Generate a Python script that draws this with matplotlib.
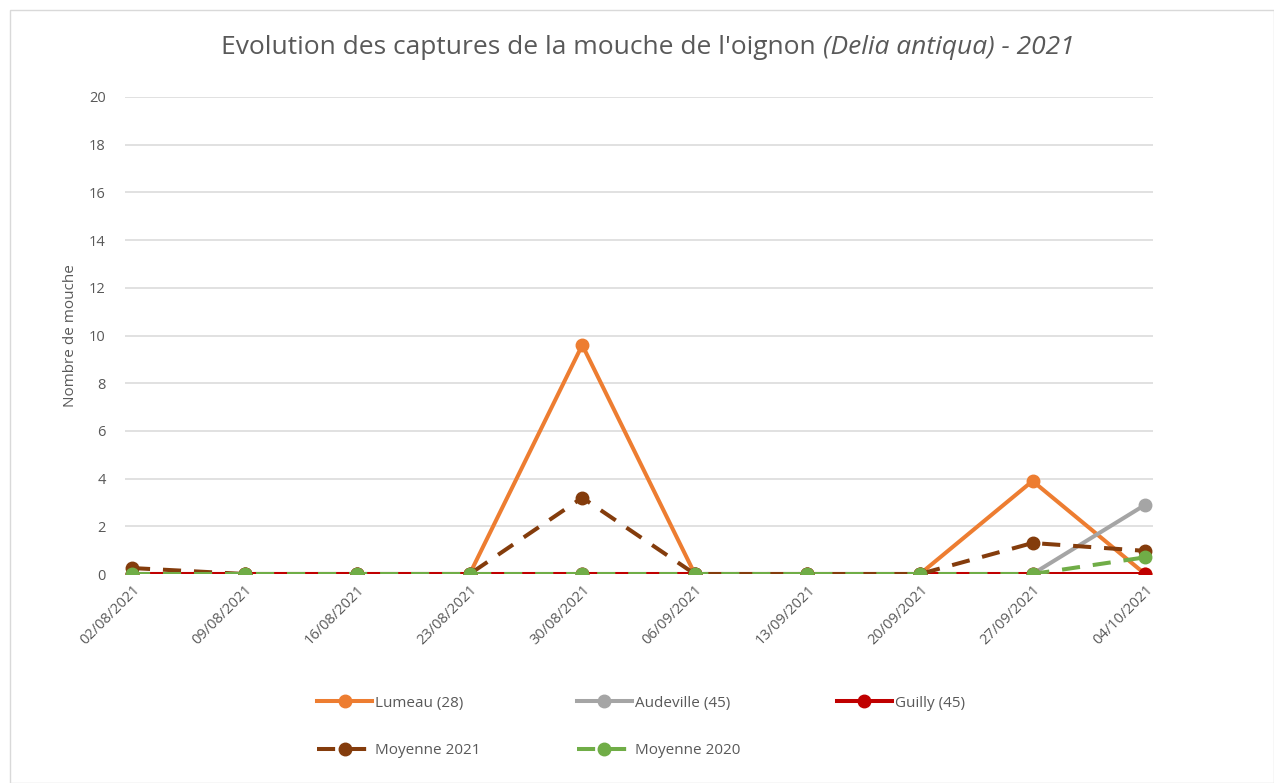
import matplotlib.pyplot as plt
from matplotlib.patches import Rectangle

plt.rcParams['font.family'] = ['Open Sans', 'DejaVu Sans']

dates = ["02/08/2021", "09/08/2021", "16/08/2021", "23/08/2021", "30/08/2021",
         "06/09/2021", "13/09/2021", "20/09/2021", "27/09/2021", "04/10/2021"]
lumeau = [0, 0, 0, 0, 9.6, 0, 0, 0, 3.9, 0]
audeville = [0, 0, 0, 0, 0, 0, 0, 0, 0, 2.9]
guilly = [0, 0, 0, 0, 0, 0, 0, 0, 0, 0]
moy2021 = [0.25, 0, 0, 0, 3.2, 0, 0, 0, 1.3, 0.97]
moy2020 = [0, 0, 0, 0, 0, 0, 0, 0, 0, 0.7]

txt = "#595959"
W, H = 1274, 783
fig = plt.figure(figsize=(W / 100, H / 100), dpi=100)
ax = fig.add_axes([125 / W, 1 - 574 / H, (1153 - 125) / W, (574 - 97) / H])

x = list(range(len(dates)))
lw, ms = 2.9, 9
dash = (0, (4.5, 3.2))
ax.plot(x, lumeau, color="#ED7D31", lw=lw, marker="o", ms=ms, label="Lumeau (28)", zorder=3)
ax.plot(x, audeville, color="#A5A5A5", lw=lw, marker="o", ms=ms, label="Audeville (45)", zorder=4)
ax.plot(x, guilly, color="#C00000", lw=lw, marker="o", ms=ms, label="Guilly (45)", zorder=5)
ax.plot(x, moy2021, color="#843C0C", lw=lw, marker="o", ms=ms, ls=dash,
        label="Moyenne 2021", zorder=6)
ax.plot(x, moy2020, color="#70AD47", lw=lw, marker="o", ms=ms, ls=dash,
        label="Moyenne 2020", zorder=7)

ax.set_xlim(-0.062, 9.07)
ax.set_ylim(0, 20)
ax.set_yticks(range(0, 21, 2))
ax.set_xticks(x)
ax.set_xticklabels(dates, rotation=45, ha="right", rotation_mode="anchor")
ax.tick_params(axis="both", length=0, colors=txt, labelsize=10.5)
ax.tick_params(axis="x", pad=6)
ax.tick_params(axis="y", pad=14)
ax.grid(axis="y", color="#D9D9D9", lw=1.1)
ax.set_axisbelow(True)
for s in ax.spines.values():
    s.set_visible(False)
ax.set_ylabel("Nombre de mouche", color=txt, fontsize=11, labelpad=8)

# title: upright part + italic part, centred together
ty = 1 - 48 / H
t1 = fig.text(0, ty, "Evolution des captures de la mouche de l'oignon ",
              ha="left", va="center", fontsize=19, color=txt)
t2 = fig.text(0, ty, "(Delia antiqua) - 2021", ha="left", va="center",
              fontsize=19, color=txt, style="italic")
r = fig.canvas.get_renderer()
w1 = t1.get_window_extent(r).width
w2 = t2.get_window_extent(r).width
x0 = 648 - (w1 + w2) / 2
t1.set_x(x0 / W)
t2.set_x((x0 + w1) / W)

h, l = ax.get_legend_handles_labels()
order = [0, 3, 1, 4, 2]
fig.legend([h[i] for i in order], [l[i] for i in order], ncol=3,
           loc="center", bbox_to_anchor=(0.503, 1 - 727 / H), frameon=False,
           fontsize=11, handlelength=3.6, columnspacing=6.3, labelspacing=2.15,
           handletextpad=0.2, labelcolor=txt)

fig.patches.append(Rectangle((10 / W, 0), 1 - 10 / W, 1 - 10 / H,
                             transform=fig.transFigure, fill=False,
                             ec="#D9D9D9", lw=1))
fig.savefig("out.png", dpi=100)
